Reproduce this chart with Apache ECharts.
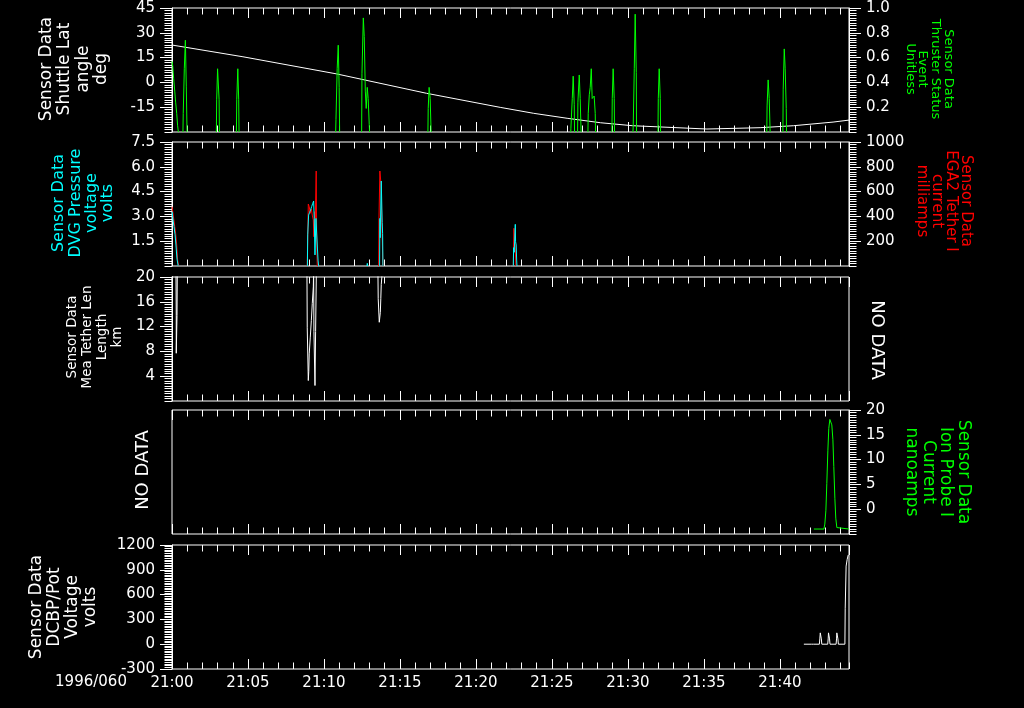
<!DOCTYPE html>
<html><head><meta charset="utf-8">
<script src="https://cdn.jsdelivr.net/npm/echarts@6/dist/echarts.min.js"></script>
<style>html,body{margin:0;padding:0;background:#000}#c{width:1024px;height:708px;background:#000}</style>
</head><body><div id="c"></div>
<script>
// ---------- tick labels ----------
const dateLabel = '1996/060';
const xTickLabels = ['21:00','21:05','21:10','21:15','21:20','21:25','21:30','21:35','21:40'];
const X_MAX = 44.55; // minutes after 21:00 at right edge

// ---------- data (time in minutes after 21:00) ----------
// Panel 1: Shuttle Lat (deg)
const latT = [0, 4.67, 10.85, 16.75, 21.6, 23.8, 26.0, 28.2, 30.3, 35.2, 38.7, 40.9, 43.5, 44.55];
const latV = [22.6, 15.5, 5.1, -6.6, -15.1, -18.7, -21.7, -24.4, -26.2, -28.2, -27.4, -26.2, -24.0, -22.8];
// Panel 1: Thruster Status Event (unitless), null = gap
const thrT = [0,0.05,0.11,0.18,0.24,0.31,0.37,0.42, null,
  0.72,0.74,0.81,0.88,0.94,0.99, null,
  2.92,2.94,3.0,3.07,3.1,3.12, null,
  4.24,4.26,4.33,4.39,4.41, null,
  10.77,10.79,10.87,10.94,11.0,11.03, null,
  12.48,12.5,12.59,12.65,12.72,12.78,12.85,12.91,12.98,13.0, null,
  16.84,16.86,16.92,16.99,17.05, null,
  26.24,26.25,26.34,26.4,26.47,26.49, null,
  26.69,26.71,26.8,26.86,26.92, null,
  27.37,27.39,27.46,27.52,27.59,27.65,27.72,27.78,27.85,27.87, null,
  28.95,28.97,29.03,29.1,29.12, null,
  30.33,30.35,30.42,30.48,30.55,30.57, null,
  31.98,32.0,32.06,32.13,32.15, null,
  39.14,39.16,39.23,39.3,39.36, null,
  40.2,40.22,40.29,40.35,40.42,40.44];
const thrV = [0.57,0.53,0.43,0.33,0.24,0.15,0.05,0, null,
  0,0.15,0.51,0.74,0.37,0, null,
  0,0.26,0.51,0.51,0.26,0, null,
  0,0.26,0.51,0.26,0, null,
  0,0.1,0.51,0.7,0.36,0, null,
  0,0.47,0.92,0.77,0.33,0.19,0.36,0.27,0.06,0, null,
  0,0.19,0.36,0.27,0, null,
  0,0.03,0.27,0.45,0.22,0, null,
  0,0.24,0.46,0.27,0, null,
  0,0.15,0.30,0.36,0.51,0.27,0.27,0.29,0.15,0, null,
  0,0.27,0.51,0.27,0, null,
  0,0.04,0.51,0.95,0.48,0, null,
  0,0.27,0.51,0.27,0, null,
  0,0.21,0.42,0.27,0, null,
  0,0.34,0.67,0.51,0.19,0];
// Panel 2: EGA2 Tether I current (milliamps)
const egaT = [0,0.05,0.11,0.18,0.24,0.31,0.37,0.44, null,
  8.9,8.97,9.03,9.1,9.17,9.23,9.3,9.34,9.39,9.43,9.49,9.52,9.56, null,
  13.6,13.62,13.68,13.75,13.82,13.88, null,
  22.46,22.5,22.57,22.63];
const egaV = [478,438,384,317,263,169,48,0, null,
  0,500,478,425,460,411,371,236,438,384,766,250,0, null,
  0,384,766,667,290,0, null,
  0,304,196,0];
// Panel 2: DVG Pressure voltage (volts)
const dvgT = [0.01,0.07,0.13,0.2,0.26,0.33,0.39,0.41, null,
  8.91,8.93,8.99,9.06,9.12,9.19,9.26,9.32,9.36,9.41,9.47,9.54,9.61,9.65, null,
  12.83,12.85,12.88, null,
  13.66,13.68,13.7,13.77,13.83,13.86,13.88, null,
  22.46,22.48,22.52,22.59,22.61,22.65,22.68,22.7];
const dvgV = [3.28,2.78,2.38,1.92,1.27,0.42,0.4,0, null,
  0,1.88,3.08,3.25,3.39,3.59,3.79,3.93,2.88,0.67,2.88,2.88,0.36,0, null,
  0,0.16,0, null,
  0,2.88,1.71,5.14,2.64,1.96,0, null,
  0,1.11,0.83,2.52,1.47,1.27,0.36,0];
// Panel 3: Mea Tether Len Length (km); values above 20 are off scale
const tethT = [0,0.02,0.05,0.26,0.28,0.28,0.33,0.35,
  8.88,8.9,8.97,9.0,9.03,9.1,9.17,9.23,9.3,9.32,9.34,9.41,9.45,9.5,
  13.55,13.57,13.64,13.71,13.74,13.77,13.84];
const tethV = [21,18.4,21,21,13.8,7.7,13.8,21,
  21,11.8,3.3,4.8,7.6,10.3,13,15.7,18.4,21,11.2,2.5,11.2,21,
  21,16.5,12.7,14.3,16.5,18.8,21];
// Panel 4: Ion Probe I Current (nanoamps)
const ionT = [42.24,42.9,42.96,43.03,43.09,43.16,43.22,43.29,43.36,43.42,43.49,43.55,43.62,43.68,43.75,43.82,44.55];
const ionV = [-4,-4,-3,-0.2,5.2,11.9,16.3,18.1,17.9,17,14,8.6,2.2,-1.8,-3.7,-4,-4];
// Panel 5: DCBP/Pot Voltage (volts)
const dcbpT = [41.58,42.08,42.15,42.22,42.6,42.63,42.66,42.7,42.73,42.76,43.15,43.18,43.2,43.24,43.27,43.3,43.7,43.73,43.75,43.79,43.82,43.85,44.28,44.3,44.36,44.43,44.5];
const dcbpV = [0,0,20,0,0,64,137,137,64,0,0,64,137,137,64,0,0,64,137,137,64,0,0,428,945,1026,1080];

// ---------- helpers ----------
const FONT = 'DejaVu Sans';
function zip(t, v){ return t.map((x,i)=> x===null ? ['-','-'] : [x, v[i]]); }
const tops = [8,142,277,410,545];
const grids = tops.map(top => ({left:172, width:677, top, height:124, show:true,
  borderColor:'#fff', borderWidth:1, backgroundColor:'transparent'}));

const xAxes = [];
tops.forEach((_, g) => {
  const base = {type:'value', gridIndex:g, min:0, max:X_MAX, splitLine:{show:false},
    axisLine:{show:false, onZero:false}, axisLabel:{show:false}};
  const tick = (len) => ({show:true, inside:true, length:len, lineStyle:{color:'#fff', width:1}});
  const lab = g === 4 ? {show:true, color:'#fff', fontSize:15, fontFamily:FONT, margin:7,
      showMaxLabel:false,
      formatter: v => { const k = Math.round(v/5); return (Math.abs(v - k*5) < 1e-6 && k < xTickLabels.length) ? xTickLabels[k] : ''; }}
    : {show:false};
  xAxes.push({...base, position:'bottom', interval:5, axisTick:tick(10), axisLabel:lab});
  xAxes.push({...base, position:'bottom', interval:1, axisTick:tick(6.5)});
  xAxes.push({...base, position:'top', interval:5, axisTick:tick(10)});
  xAxes.push({...base, position:'top', interval:1, axisTick:tick(6.5)});
});

// companion y axes carrying the short minor ticks only (listed first so majors draw on top)
function yMinor(g, pos, min, max, interval){
  return {type:'value', gridIndex:g, position:pos, min, max, interval,
    splitLine:{show:false},
    axisLine:{show:false, onZero:false},
    axisTick:{show:true, length:7.5, lineStyle:{color:'#fff', width:1}},
    axisLabel:{show:false}};
}
// main y axes (with labels and long ticks)
function yAx(g, pos, min, max, interval, opts){
  opts = opts || {};
  return {type:'value', gridIndex:g, position:pos, min, max, interval,
    splitLine:{show:false},
    axisLine:{show:true, onZero:false, lineStyle:{color:'#fff', width:1}},
    axisTick:{show:true, length:12, lineStyle:{color:'#fff', width:1}},
    axisLabel:{color:'#fff', fontSize:15, fontFamily:FONT, margin:17,
      showMinLabel: opts.showMin !== undefined ? opts.showMin : false,
      formatter: opts.fmt || (v => String(v))}};
}
const yAxes = [
  yAx(0,'left',-30,45,15),
  yAx(0,'right',0,1,0.2,{fmt:v=>v.toFixed(1)}),
  yAx(1,'left',0,7.5,1.5,{fmt:v=>v.toFixed(1)}),
  yAx(1,'right',0,1000,200),
  yAx(2,'left',0,20,4),
  yAx(3,'right',-5,20,5),
  yAx(4,'left',-300,1200,300,{showMin:true}),
  yMinor(0,'left',-30,45,1.5),
  yMinor(0,'right',0,1,0.02),
  yMinor(1,'left',0,7.5,0.15),
  yMinor(1,'right',0,1000,20),
  yMinor(2,'left',0,20,0.4),
  yMinor(3,'right',-5,20,0.5),
  yMinor(4,'left',-300,1200,20)
];

function line(name, data, xi, yi, color){
  return {name, type:'line', data, xAxisIndex:xi, yAxisIndex:yi, symbol:'none', showSymbol:false,
    lineStyle:{color, width:1}, itemStyle:{color}, clip:true, connectNulls:false, animation:false};
}

function vtext(text, x, y, rot, color, size, lh){
  return {type:'text', x, y, rotation:rot, silent:true,
    style:{text, fill:color, fontSize:size, fontFamily:FONT, lineHeight:lh,
      align:'center', verticalAlign:'middle', textAlign:'center', textVerticalAlign:'middle'}};
}
const CCW = Math.PI/2, CW = -Math.PI/2;

const option = {
  backgroundColor:'#000',
  animation:false,
  grid: grids,
  xAxis: xAxes,
  yAxis: yAxes,
  series: [
    line('Shuttle Lat', zip(latT, latV), 0, 0, '#ffffff'),
    line('Thruster Status', zip(thrT, thrV), 0, 1, '#00ff00'),
    line('EGA2 Tether I', zip(egaT, egaV), 4, 3, '#ff0000'),
    line('DVG Pressure', zip(dvgT, dvgV), 4, 2, '#00ffff'),
    line('Mea Tether Len', zip(tethT, tethV), 8, 4, '#ffffff'),
    line('Ion Probe I', zip(ionT, ionV), 12, 5, '#00ff00'),
    line('DCBP/Pot', zip(dcbpT, dcbpV), 16, 6, '#ffffff')
  ],
  graphic: [
    vtext('Sensor Data\nShuttle Lat\nangle\ndeg', 74, 69, CCW, '#ffffff', 17, 18.3),
    vtext('Sensor Data\nThruster Status\nEvent\nUnitless', 929, 69, CW, '#00ff00', 13, 12.6),
    vtext('Sensor Data\nDVG Pressure\nvoltage\nvolts', 83.5, 203, CCW, '#00ffff', 16, 16.3),
    vtext('Sensor Data\nEGA2 Tether I\ncurrent\nmilliamps', 944, 201, CW, '#ff0000', 15, 14.7),
    vtext('Sensor Data\nMea Tether Len\nLength\nkm', 95, 337, CCW, '#ffffff', 13.5, 14.7),
    vtext('NO DATA', 877, 340, CW, '#ffffff', 18, 20),
    vtext('NO DATA', 143, 470, CCW, '#ffffff', 18, 20),
    vtext('Sensor Data\nIon Probe I\nCurrent\nnanoamps', 937, 472, CW, '#00ff00', 17, 17.3),
    vtext('Sensor Data\nDCBP/Pot\nVoltage\nvolts', 64, 607, CCW, '#ffffff', 17, 18),
    {type:'text', x:91, y:682, silent:true,
      style:{text:dateLabel, fill:'#fff', fontSize:15, fontFamily:FONT,
        align:'center', verticalAlign:'middle', textAlign:'center', textVerticalAlign:'middle'}}
  ]
};
const chart = echarts.init(document.getElementById('c'), null, {renderer:'canvas'});
chart.setOption(option);
</script>
</body></html>
